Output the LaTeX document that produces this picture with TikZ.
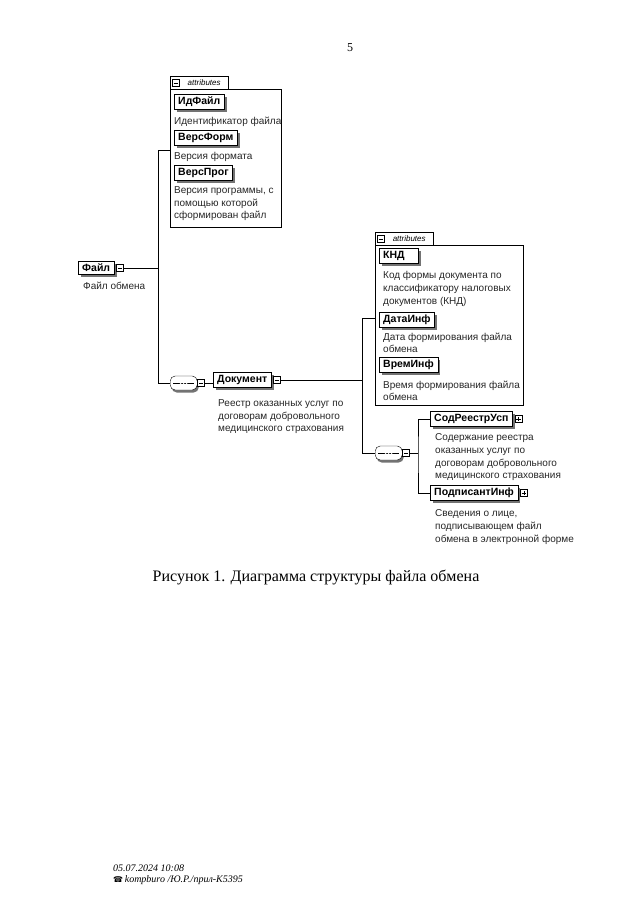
\documentclass[tikz,border=0pt]{standalone}
\usepackage{fontspec}
\setmainfont{Liberation Serif}
\setsansfont{Liberation Sans}
\newfontfamily\symfont{DejaVu Sans}
\usetikzlibrary{positioning,shadows}

\tikzset{
  elem/.style={draw, fill=white, anchor=west, font=\sffamily\bfseries\fontsize{10.5}{12}\selectfont,
    inner xsep=4pt, inner ysep=0pt, minimum height=15pt,
    drop shadow={shadow xshift=2.5pt, shadow yshift=-2.5pt, fill=black!55, opacity=1}},
  desc/.style={anchor=north west, align=left, inner sep=0pt, text=black!85,
    font=\sffamily\fontsize{10}{12.7}\selectfont},
  attrbox/.style={draw, anchor=north west, inner sep=0pt},
  tabbox/.style={anchor=south west, inner sep=0pt, minimum width=58pt, minimum height=12pt,
    font=\sffamily\itshape\fontsize{8}{9}\selectfont},
  minusbox/.style={draw, fill=white, inner sep=0pt, minimum size=7pt,
    path picture={\draw ([xshift=1.3pt]path picture bounding box.west) -- ([xshift=-1.3pt]path picture bounding box.east);}},
  plusbox/.style={draw, fill=white, inner sep=0pt, minimum size=7pt,
    path picture={\draw ([xshift=1.3pt]path picture bounding box.west) -- ([xshift=-1.3pt]path picture bounding box.east);
      \draw ([yshift=-1.3pt]path picture bounding box.north) -- ([yshift=1.3pt]path picture bounding box.south);}},
  seqbox/.style={draw, fill=white, anchor=west, rounded corners=5pt,
    minimum width=27pt, minimum height=14pt, inner sep=0pt,
    drop shadow={shadow xshift=1.5pt, shadow yshift=-2.5pt, fill=black!55, opacity=1},
    path picture={\draw ([xshift=3pt]path picture bounding box.west) -- ([xshift=-3pt]path picture bounding box.east);
      \foreach \dx in {-3,0,3} \fill ([xshift=\dx pt]path picture bounding box.center) circle (1pt);}},
  wire/.style={draw, line width=0.7pt}
}

\begin{document}
\begin{tikzpicture}[x=1pt, y=-1pt]
\useasboundingbox (0,0) rectangle (640,905);

% page number
\node[font=\fontsize{12}{14}\selectfont] (pagenum) at (350,48) {5};

% root element
\node[elem, minimum height=13pt] (file) at (78,268) {Файл};
\node[minusbox, right=2pt of file] (fileexp) {};
\node[desc] (fileNote) at (83,282) {Файл обмена};

% attributes of the root
\node[attrbox, minimum width=111pt, minimum height=138pt] (attrA) at (170,89) {};
\node[tabbox] (tabA) at (170,89) {\hspace{10pt}attributes};
\draw (tabA.south west) |- (tabA.north east) -- (tabA.south east);
\node[minusbox, right=2pt of tabA.west] (tabAexp) {};

\node[elem] (idFile) at (174,101.5) {ИдФайл};
\node[desc] (idFileNote) at (174,116.5) {Идентификатор файла};
\node[elem] (versForm) at (174,137.5) {ВерсФорм};
\node[desc] (versFormNote) at (174,152.5) {Версия формата};
\node[elem] (versProg) at (174,172.5) {ВерсПрог};
\node[desc] (versProgNote) at (174,186.5) {Версия программы, с\\помощью которой\\сформирован файл};

% first sequence
\node[seqbox] (seqA) at (170,383) {};
\node[minusbox, right=0pt of seqA] (seqAexp) {};

\node[elem] (doc) at (213,380) {Документ};
\node[minusbox, right=2pt of doc] (docexp) {};
\node[desc] (docNote) at (218,399.5) {Реестр оказанных услуг по\\договорам добровольного\\медицинского страхования};

% attributes of the document
\node[attrbox, minimum width=148pt, minimum height=160pt] (attrB) at (375,245) {};
\node[tabbox] (tabB) at (375,245) {\hspace{10pt}attributes};
\draw (tabB.south west) |- (tabB.north east) -- (tabB.south east);
\node[minusbox, right=2pt of tabB.west] (tabBexp) {};

\node[elem, text width=31pt, align=left] (knd) at (379,255.5) {КНД};
\node[desc] (kndNote) at (383,271.5) {Код формы документа по\\классификатору налоговых\\документов (КНД)};
\node[elem] (dataInf) at (379,319.5) {ДатаИнф};
\node[desc] (dataInfNote) at (383,332.5) {Дата формирования файла\\обмена};
\node[elem] (vremInf) at (379,364.5) {ВремИнф};
\node[desc] (vremInfNote) at (383,380.5) {Время формирования файла\\обмена};

% second sequence
\node[seqbox] (seqB) at (375,453) {};
\node[minusbox, right=0pt of seqB] (seqBexp) {};

\node[elem] (sodReestr) at (430,419) {СодРеестрУсп};
\node[plusbox, right=2pt of sodReestr] (sodReestrExp) {};
\node[desc] (sodReestrNote) at (435,433.5) {Содержание реестра\\оказанных услуг по\\договорам добровольного\\медицинского страхования};
\node[elem] (podpisant) at (430,493) {ПодписантИнф};
\node[plusbox, right=2pt of podpisant] (podpisantExp) {};
\node[desc] (podpisantNote) at (435,509.5) {Сведения о лице,\\подписывающем файл\\обмена в электронной форме};

% connectors
\coordinate (tA) at (158,150);
\coordinate (tB) at (362,318);
\coordinate (tC) at (418,453);
\path[wire] (tA) -- (tA -| attrA.west);
\path[wire] (fileexp.east) -- (fileexp.east -| tA);
\path[wire] (tA) |- (seqA.west);
\path[wire] (seqAexp.east) -- (seqAexp.east -| doc.west);
\path[wire] (docexp.east) -- (docexp.east -| tB);
\path[wire] (tB) -- (tB -| attrB.west);
\path[wire] (tB) |- (seqB.west);
\path[wire] (seqBexp.east) -- (tC);
\path[wire] (sodReestr.west) -| (tC) |- (podpisant.west);

% caption
\node[font=\fontsize{16}{18}\selectfont] (caption) at (316,577) {Рисунок 1. Диаграмма структуры файла обмена};

% footer
\node[anchor=west, inner sep=0pt, font=\itshape\fontsize{10}{12}\selectfont] (stamp) at (113,868) {05.07.2024 10:08};
\node[anchor=west, inner sep=0pt, font=\itshape\fontsize{10}{12}\selectfont] (stampB) at (113,880) {{\symfont\fontsize{8}{9}\selectfont ☎}\,kompburo /Ю.Р./прил-К5395};
\end{tikzpicture}
\end{document}
